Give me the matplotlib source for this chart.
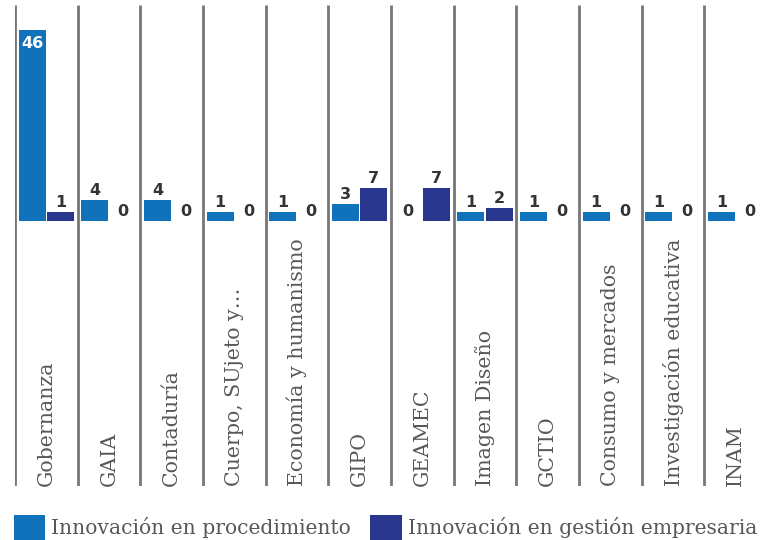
#Grouped bars: innovation type per research group
import numpy as np
import matplotlib.pyplot as plt

categories = ["Gobernanza", "GAIA", "Contaduría", "Cuerpo, SUjeto y…",
              "Economía y humanismo", "GIPO", "GEAMEC", "Imagen Diseño",
              "GCTIO", "Consumo y mercados", "Investigación educativa", "INAM"]
procedimiento = [46, 4, 4, 1, 1, 3, 0, 1, 1, 1, 1, 1]
gestion = [1, 0, 0, 0, 0, 7, 7, 2, 0, 0, 0, 0]
series_names = ["Innovación en procedimiento", "Innovación en gestión empresaria"]
colors = ["#1072ba", "#28378d"]

base = -1.24  #bars start a little below zero, like the original
ymin, ymax = -66.8, 52.2

fig = plt.figure(figsize=(7.65, 5.4), dpi=100)
ax = fig.add_axes([15/765, 1-486/540, 752/765, 481/540])
ax.set_xlim(-0.5, 11.5)
ax.set_ylim(ymin, ymax)
ax.axis("off")

x = np.arange(len(categories))
ax.vlines(np.arange(len(categories)+1)-0.5, ymin, ymax, color="#77777b", lw=2, zorder=1)

w = 0.43
offs = [-0.225, 0.225]
handles = []
for vals, off, col, name in zip([procedimiento, gestion], offs, colors, series_names):
  vals = np.array(vals)
  h = np.where(vals > 0, vals - base, 0)
  bars = ax.bar(x + off, h, w, bottom=base, color=col, label=name, zorder=2)
  handles.append(bars)
  for xi, v in zip(x + off, vals):
    top = base + (v - base if v > 0 else 0)
    if v > 30:
      ax.annotate(str(v), (xi, top), xytext=(0, -4), textcoords="offset points",
                  ha="center", va="top", color="white", fontsize=11.5, fontweight="bold")
    else:
      ax.annotate(str(v), (xi, top), xytext=(0, 1.5), textcoords="offset points",
                  ha="center", va="bottom", color="#333333", fontsize=11.5, fontweight="bold")

for xi, name in zip(x, categories):
  ax.text(xi, ymin, name, rotation=90, ha="center", va="bottom",
          fontsize=14.8, family="DejaVu Serif", color="#58585a")

fig.legend(handles=handles, labels=series_names, loc="lower left",
           bbox_to_anchor=(0.018, 0.0), ncol=2, frameon=False,
           prop={"family": "DejaVu Serif", "size": 14.6}, labelcolor="#58585a",
           handlelength=1.55, handleheight=1.55, handletextpad=0.3,
           columnspacing=0.95, borderaxespad=0, borderpad=0)

plt.savefig("out.png")
